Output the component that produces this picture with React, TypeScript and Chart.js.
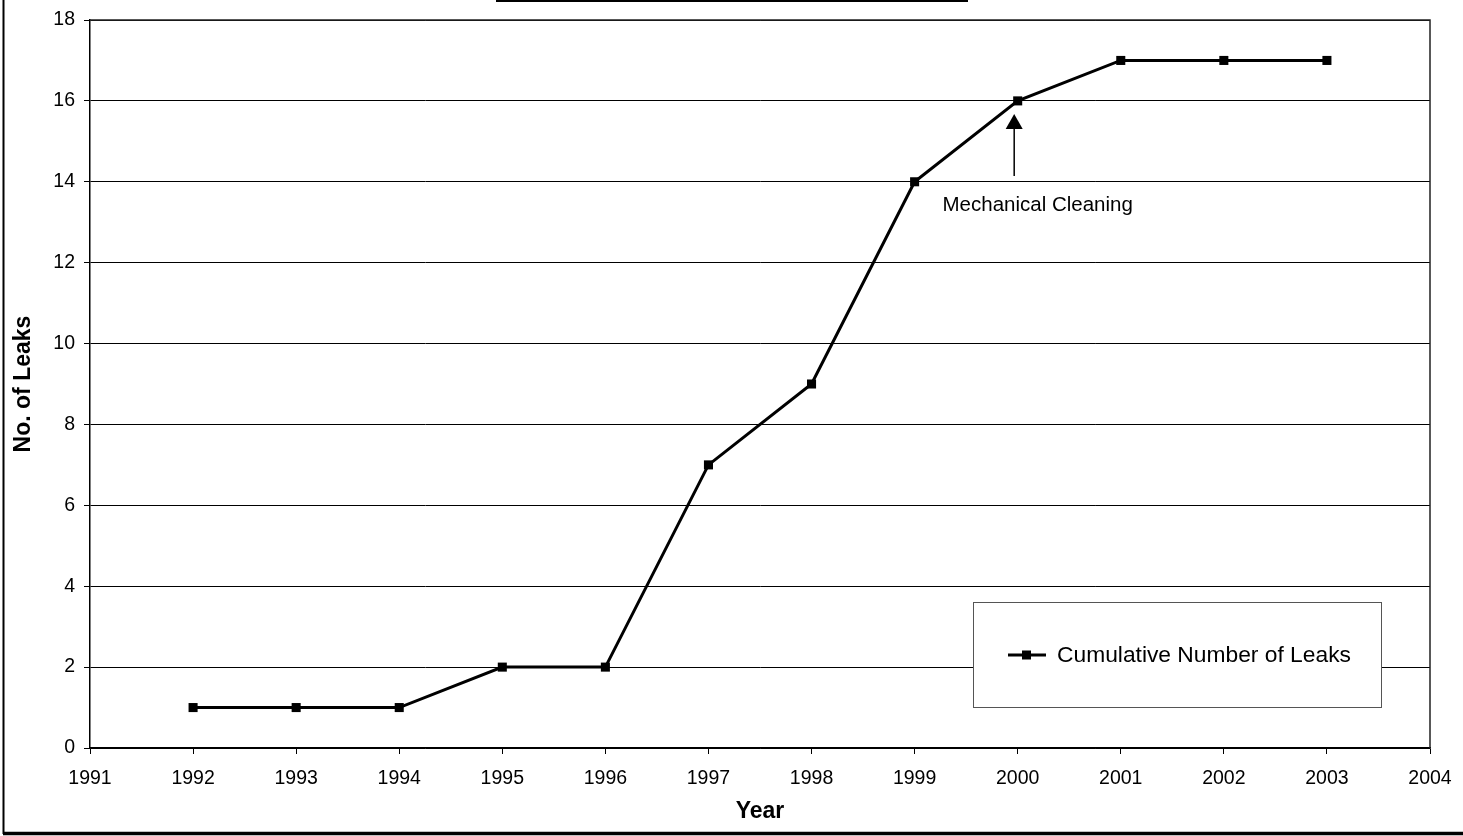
import React, { useEffect, useRef } from "react";
import { Chart, registerables } from "chart.js";

Chart.register(...registerables);

const years = [1992, 1993, 1994, 1995, 1996, 1997, 1998, 1999, 2000, 2001, 2002, 2003];
const leaks = [1, 1, 1, 2, 2, 7, 9, 14, 16, 17, 17, 17];
const seriesLabel = "Cumulative Number of Leaks";
const xTitle = "Year";
const yTitle = "No. of Leaks";
const annotationText = "Mechanical Cleaning";
const annotationYear = 2000;
const annotationValue = 16;

const FONT = "'Liberation Sans', Arial, sans-serif";

const decorations = {
  id: "decorations",
  afterDraw(chart: any) {
    const ctx = chart.ctx;
    const area = chart.chartArea;
    const xs = chart.scales.x;
    const ys = chart.scales.y;
    ctx.save();
    // outer frame
    ctx.strokeStyle = "#000";
    ctx.lineWidth = 2;
    ctx.beginPath();
    ctx.moveTo(3.5, 0);
    ctx.lineTo(3.5, 834);
    ctx.stroke();
    ctx.lineWidth = 3.5;
    ctx.beginPath();
    ctx.moveTo(3, 833.5);
    ctx.lineTo(1463, 833.5);
    ctx.stroke();
    // title box bottom edge (cut off)
    ctx.lineWidth = 2;
    ctx.beginPath();
    ctx.moveTo(496, 1);
    ctx.lineTo(968, 1);
    ctx.stroke();
    // plot border top/right
    ctx.strokeStyle = "#222";
    ctx.lineWidth = 1.5;
    ctx.beginPath();
    ctx.moveTo(area.left, area.top);
    ctx.lineTo(area.right, area.top);
    ctx.lineTo(area.right, area.bottom);
    ctx.stroke();

    // annotation arrow
    const ax = xs.getPixelForValue(annotationYear) - 4;
    const ay = ys.getPixelForValue(annotationValue);
    const tipY = ay + 13;
    ctx.strokeStyle = "#000";
    ctx.fillStyle = "#000";
    ctx.lineWidth = 1.5;
    ctx.beginPath();
    ctx.moveTo(ax + 0.5, tipY + 15);
    ctx.lineTo(ax + 0.5, tipY + 62);
    ctx.stroke();
    ctx.beginPath();
    ctx.moveTo(ax + 0.5, tipY);
    ctx.lineTo(ax - 8, tipY + 15);
    ctx.lineTo(ax + 9, tipY + 15);
    ctx.closePath();
    ctx.fill();
    ctx.font = `20.5px ${FONT}`;
    ctx.textAlign = "center";
    ctx.textBaseline = "middle";
    ctx.fillText(annotationText, ax + 24, tipY + 91);

    // legend box
    const lx = 973.5, ly = 602.5, lw = 408, lh = 105;
    ctx.fillStyle = "#fff";
    ctx.fillRect(lx, ly, lw, lh);
    ctx.strokeStyle = "#555";
    ctx.lineWidth = 1;
    ctx.strokeRect(lx, ly, lw, lh);
    const cy = 655;
    ctx.strokeStyle = "#000";
    ctx.lineWidth = 3;
    ctx.beginPath();
    ctx.moveTo(1008, cy);
    ctx.lineTo(1046, cy);
    ctx.stroke();
    ctx.fillStyle = "#000";
    ctx.fillRect(1022, cy - 4.5, 9, 9);
    ctx.font = `22.8px ${FONT}`;
    ctx.textAlign = "left";
    ctx.textBaseline = "middle";
    ctx.fillText(seriesLabel, 1057, cy + 1);
    ctx.restore();
  },
};

export default function App() {
  const ref = useRef<HTMLCanvasElement | null>(null);
  useEffect(() => {
    document.body.style.margin = "0";
    const canvas = ref.current!;
    const chart = new Chart(canvas, {
      type: "line",
      data: {
        datasets: [
          {
            label: seriesLabel,
            data: years.map((y, i) => ({ x: y, y: leaks[i] })),
            borderColor: "#000",
            backgroundColor: "#000",
            borderWidth: 3,
            pointStyle: "rect",
            pointRadius: 6.4,
            pointBorderWidth: 0,
            pointBackgroundColor: "#000",
            tension: 0,
          },
        ],
      },
      options: {
        animation: false,
        responsive: false,
        devicePixelRatio: 1,
        layout: { padding: { left: 0, top: 20, right: 33, bottom: 0 } },
        plugins: { legend: { display: false }, tooltip: { enabled: false }, title: { display: false } },
        scales: {
          x: {
            type: "linear",
            min: 1991,
            max: 2004,
            afterFit: (s: any) => {
              s.height = 88;
              s.paddingLeft = 0;
              s.paddingRight = 0;
            },
            ticks: {
              stepSize: 1,
              autoSkip: false,
              maxRotation: 0,
              color: "#000",
              padding: 13,
              font: { family: FONT, size: 19.5 },
              callback: (v: any) => String(v),
            },
            grid: {
              display: true,
              drawOnChartArea: false,
              drawTicks: true,
              tickLength: 6,
              color: "#000",
              lineWidth: 1,
            },
            border: { display: true, color: "#000", width: 1.5 },
            title: {
              display: true,
              text: xTitle,
              color: "#000",
              font: { family: FONT, size: 23, weight: "bold" },
              padding: { top: 0, bottom: 11 },
            },
          },
          y: {
            min: 0,
            max: 18,
            afterFit: (s: any) => {
              s.width = 90;
              s.paddingTop = 0;
              s.paddingBottom = 0;
            },
            ticks: {
              stepSize: 2,
              color: "#000",
              padding: 9,
              font: { family: FONT, size: 19.5 },
            },
            grid: {
              color: "#000",
              lineWidth: 1,
              tickLength: 6,
              drawTicks: true,
            },
            border: { display: true, color: "#000", width: 1.5 },
            title: {
              display: true,
              text: yTitle,
              color: "#000",
              font: { family: FONT, size: 23, weight: "bold" },
              padding: { top: 10, bottom: 0 },
            },
          },
        },
      },
      plugins: [decorations],
    } as any);
    return () => chart.destroy();
  }, []);
  return (
    <div style={{ position: "fixed", left: 0, top: 0, width: 1463, height: 836, background: "#fff" }}>
      <canvas ref={ref} width={1463} height={836} style={{ width: 1463, height: 836, display: "block" }} />
    </div>
  );
}
